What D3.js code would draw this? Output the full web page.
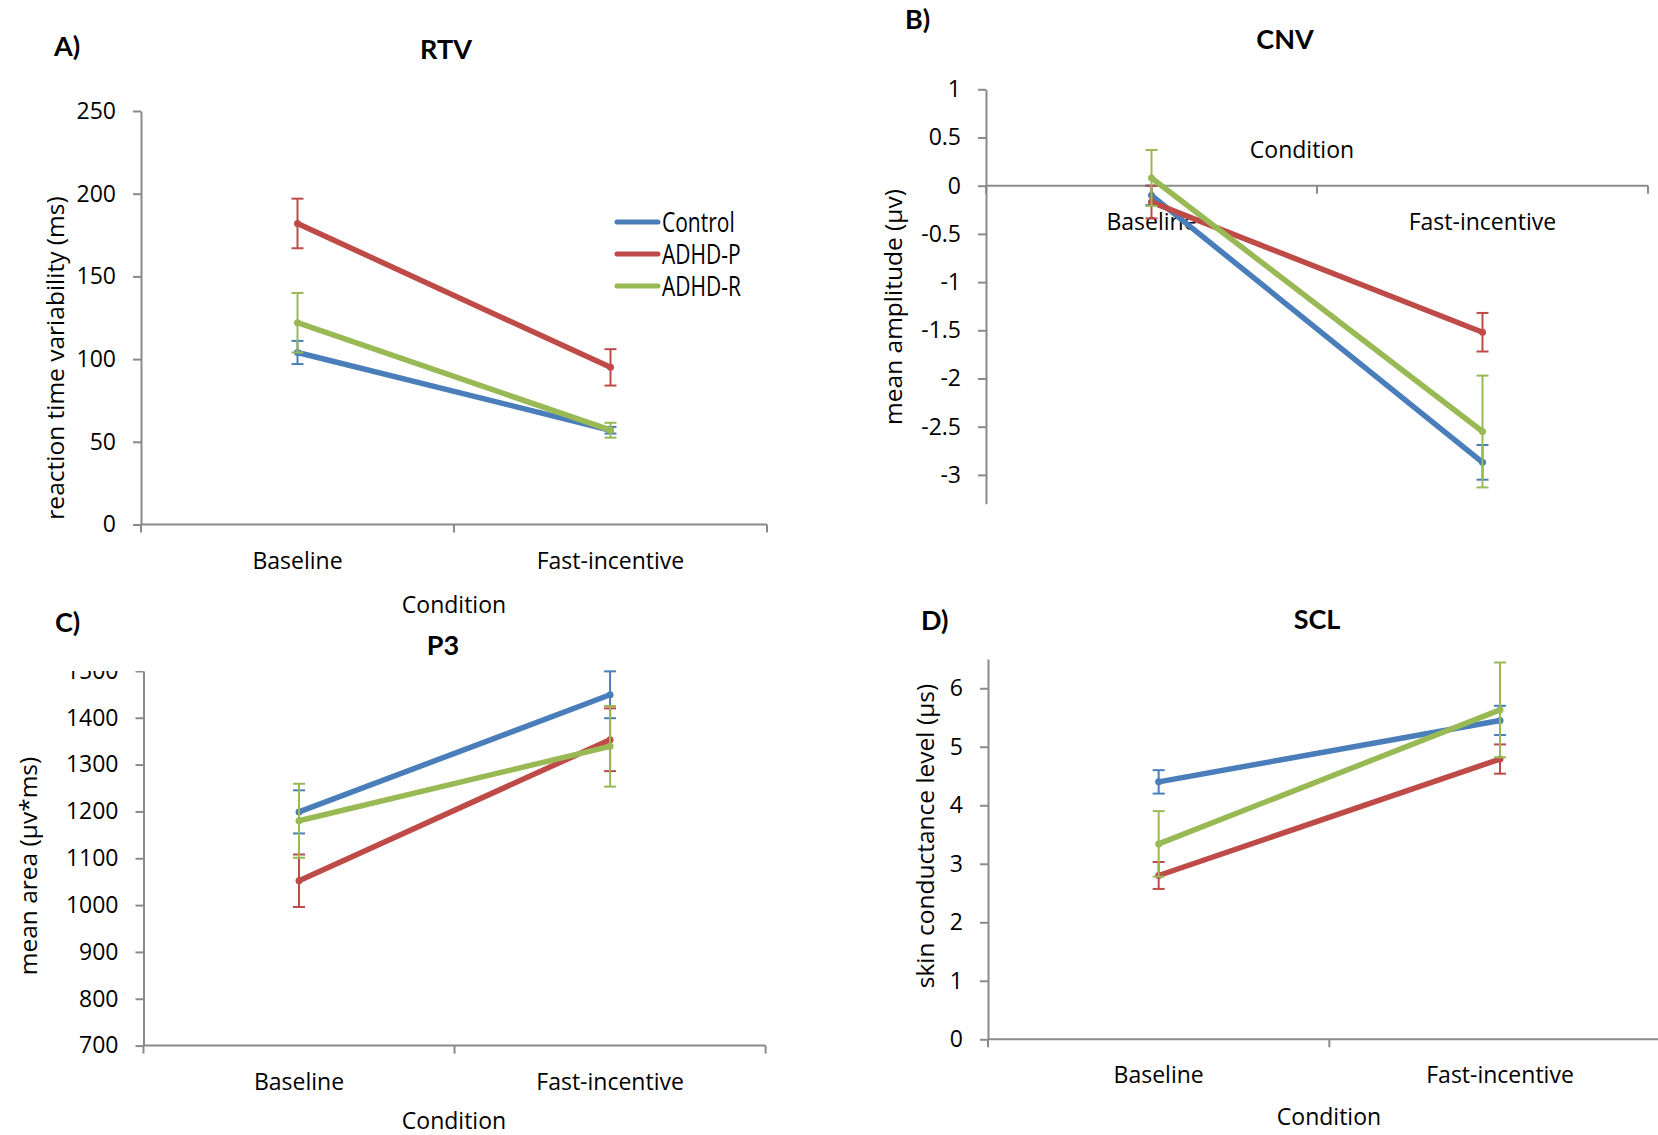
<!DOCTYPE html>
<html>
<head>
<meta charset="utf-8">
<script src="https://cdn.jsdelivr.net/npm/d3@7"></script>
<style>
  body { margin: 0; background: #fff; }
  svg { display: block; }
</style>
</head>
<body>
<div id="chart"></div>
<script>
// Categories and groups
const categories = ['Baseline', 'Fast-incentive'];
const groups = ['Control', 'ADHD-P', 'ADHD-R'];
const groupColors = ['#4a7ebb', '#be4b48', '#98b954'];

// A) RTV - reaction time variability (ms)
const rtvMean = [[104, 57], [182, 95], [122, 57]];
const rtvErr = [[7, 2], [15, 11], [18, 4.5]];
const rtvTicks = [0, 50, 100, 150, 200, 250];

// B) CNV - mean amplitude (µv)
const cnvMean = [[-0.10, -2.87], [-0.17, -1.52], [0.08, -2.55]];
const cnvErr = [[0.1, 0.18], [0.17, 0.2], [0.29, 0.58]];
const cnvTicks = [-3, -2.5, -2, -1.5, -1, -0.5, 0, 0.5, 1];

// C) P3 - mean area (µv*ms)
const p3Mean = [[1199, 1449], [1052, 1353], [1180, 1339]];
const p3Err = [[46, 50], [56, 67], [79, 86]];
const p3Ticks = [700, 800, 900, 1000, 1100, 1200, 1300, 1400, 1500];

// D) SCL - skin conductance level (µs)
const sclMean = [[4.40, 5.45], [2.80, 4.79], [3.34, 5.63]];
const sclErr = [[0.2, 0.25], [0.23, 0.25], [0.56, 0.81]];
const sclTicks = [0, 1, 2, 3, 4, 5, 6];

const width = 1658;
const height = 1135;
const axisColor = '#8a8a8a';
const tickFont = '"Open Sans", "Noto Sans", sans-serif';
const titleFont = 'Lato, "Open Sans", sans-serif';
const yTitleFont = '"Open Sans", "Noto Sans", sans-serif';

const svg = d3.select('#chart')
  .append('svg')
  .attr('width', width)
  .attr('height', height);

const defs = svg.append('defs');

const panels = [
  {
    letter: 'A)', letterX: 54, letterY: 56,
    title: 'RTV', titleX: 446, titleY: 59,
    yLabel: 'reaction time variability (ms)', yLabelX: 64, yLabelY: 358,
    mean: rtvMean, err: rtvErr, ticks: rtvTicks, domain: [0, 250],
    x0: 141, x1: 767, yTop: 111, yBottom: 524.5,
    condX: 454, condDy: 88
  },
  {
    letter: 'B)', letterX: 905, letterY: 29,
    title: 'CNV', titleX: 1285, titleY: 49,
    yLabel: 'mean amplitude (µv)', yLabelX: 902, yLabelY: 307,
    mean: cnvMean, err: cnvErr, ticks: cnvTicks, domain: [-3.3, 1],
    x0: 986, x1: 1648, yTop: 89.3, yBottom: 503.8,
    crossAt: 0, condX: 1302, condDy: -28
  },
  {
    letter: 'C)', letterX: 55, letterY: 632,
    title: 'P3', titleX: 443, titleY: 655,
    yLabel: 'mean area (µv*ms)', yLabelX: 37, yLabelY: 866,
    mean: p3Mean, err: p3Err, ticks: p3Ticks, domain: [700, 1500],
    x0: 143.5, x1: 765.6, yTop: 670.9, yBottom: 1045.6,
    condX: 454, condDy: 83, clipTop: 671
  },
  {
    letter: 'D)', letterX: 921, letterY: 630,
    title: 'SCL', titleX: 1317, titleY: 629,
    yLabel: 'skin conductance level (µs)', yLabelX: 934, yLabelY: 836,
    mean: sclMean, err: sclErr, ticks: sclTicks, domain: [0, 6.5],
    x0: 988, x1: 1670.7, yTop: 659, yBottom: 1039.3,
    condX: 1329, condDy: 86
  }
];

function drawPanel(p, idx) {
  const g = svg.append('g').attr('class', 'panel');

  const x = d3.scaleBand().domain(categories).range([p.x0, p.x1]);
  const y = d3.scaleLinear().domain(p.domain).range([p.yBottom, p.yTop]);
  const bw = x.bandwidth();

  // Y axis
  const yAxis = g.append('g')
    .attr('transform', `translate(${p.x0},0)`)
    .call(d3.axisLeft(y)
      .tickValues(p.ticks)
      .tickSize(8)
      .tickSizeOuter(0)
      .tickPadding(17)
      .tickFormat(d => String(d)));

  yAxis.select('.domain')
    .attr('stroke', axisColor)
    .attr('stroke-width', 2);
  yAxis.selectAll('.tick line')
    .attr('stroke', axisColor)
    .attr('stroke-width', 2);
  yAxis.selectAll('.tick text')
    .attr('fill', '#000')
    .style('font-family', tickFont)
    .style('font-size', '23px');

  // top label of the P3 axis is cut off by the plot area
  if (p.clipTop != null) {
    const id = 'clip-' + idx;
    defs.append('clipPath')
      .attr('id', id)
      .append('rect')
      .attr('x', -200)
      .attr('y', p.clipTop)
      .attr('width', 400)
      .attr('height', height);
    yAxis.attr('clip-path', `url(#${id})`);
  }

  // X (category) axis
  const axisY = p.crossAt != null ? y(p.crossAt) : p.yBottom;
  g.append('line')
    .attr('x1', p.x0).attr('x2', p.x1)
    .attr('y1', axisY).attr('y2', axisY)
    .attr('stroke', axisColor)
    .attr('stroke-width', 2);

  const bounds = categories.map(c => x(c)).concat([p.x1]);
  g.selectAll('.xtick')
    .data(bounds)
    .enter().append('line')
    .attr('x1', d => d).attr('x2', d => d)
    .attr('y1', axisY).attr('y2', axisY + 8)
    .attr('stroke', axisColor)
    .attr('stroke-width', 2);

  g.selectAll('.xlabel')
    .data(categories)
    .enter().append('text')
    .attr('x', d => x(d) + bw / 2)
    .attr('y', axisY + 44)
    .attr('text-anchor', 'middle')
    .style('font-family', tickFont)
    .style('font-size', '23px')
    .text(d => d);

  g.append('text')
    .attr('x', p.condX)
    .attr('y', axisY + p.condDy)
    .attr('text-anchor', 'middle')
    .style('font-family', tickFont)
    .style('font-size', '23px')
    .text('Condition');

  // Series
  const line = d3.line()
    .x((d, j) => x(categories[j]) + bw / 2)
    .y(d => y(d));

  groups.forEach((name, i) => {
    const color = groupColors[i];
    const sg = g.append('g').attr('class', 'series');

    p.mean[i].forEach((m, j) => {
      const cx = x(categories[j]) + bw / 2;
      const e = p.err[i][j];
      sg.append('line')
        .attr('x1', cx).attr('x2', cx)
        .attr('y1', y(m - e)).attr('y2', y(m + e))
        .attr('stroke', color)
        .attr('stroke-width', 2);
      [m - e, m + e].forEach(v => {
        sg.append('line')
          .attr('x1', cx - 6).attr('x2', cx + 6)
          .attr('y1', y(v)).attr('y2', y(v))
          .attr('stroke', color)
          .attr('stroke-width', 2);
      });
    });

    sg.append('path')
      .datum(p.mean[i])
      .attr('fill', 'none')
      .attr('stroke', color)
      .attr('stroke-width', 5.5)
      .attr('stroke-linecap', 'round')
      .attr('d', line);

    sg.selectAll('circle')
      .data(p.mean[i])
      .enter().append('circle')
      .attr('cx', (d, j) => x(categories[j]) + bw / 2)
      .attr('cy', d => y(d))
      .attr('r', 3.5)
      .attr('fill', color);
  });

  // Titles
  g.append('text')
    .attr('x', p.letterX)
    .attr('y', p.letterY)
    .style('font-family', titleFont)
    .style('font-weight', 'bold')
    .style('font-size', '27px')
    .text(p.letter);

  g.append('text')
    .attr('x', p.titleX)
    .attr('y', p.titleY)
    .attr('text-anchor', 'middle')
    .style('font-family', titleFont)
    .style('font-weight', 'bold')
    .style('font-size', '27px')
    .text(p.title);

  g.append('text')
    .attr('transform', `translate(${p.yLabelX},${p.yLabelY}) rotate(-90)`)
    .attr('text-anchor', 'middle')
    .style('font-family', yTitleFont)
    .style('font-size', '24.5px')
    .text(p.yLabel);
}

panels.forEach(drawPanel);

// Legend (panel A) - condensed text as in the original
const legend = svg.append('g')
  .attr('transform', 'translate(617, 222)');

groups.forEach((name, i) => {
  const item = legend.append('g')
    .attr('transform', `translate(0, ${i * 32})`);
  item.append('line')
    .attr('x1', 0).attr('x2', 41)
    .attr('y1', 0).attr('y2', 0)
    .attr('stroke', groupColors[i])
    .attr('stroke-width', 5)
    .attr('stroke-linecap', 'round');
  item.append('text')
    .attr('transform', 'translate(45, 10) scale(0.75, 1)')
    .style('font-family', '"Open Sans", sans-serif')
    .style('font-size', '28px')
    .text(name);
});
</script>
</body>
</html>
